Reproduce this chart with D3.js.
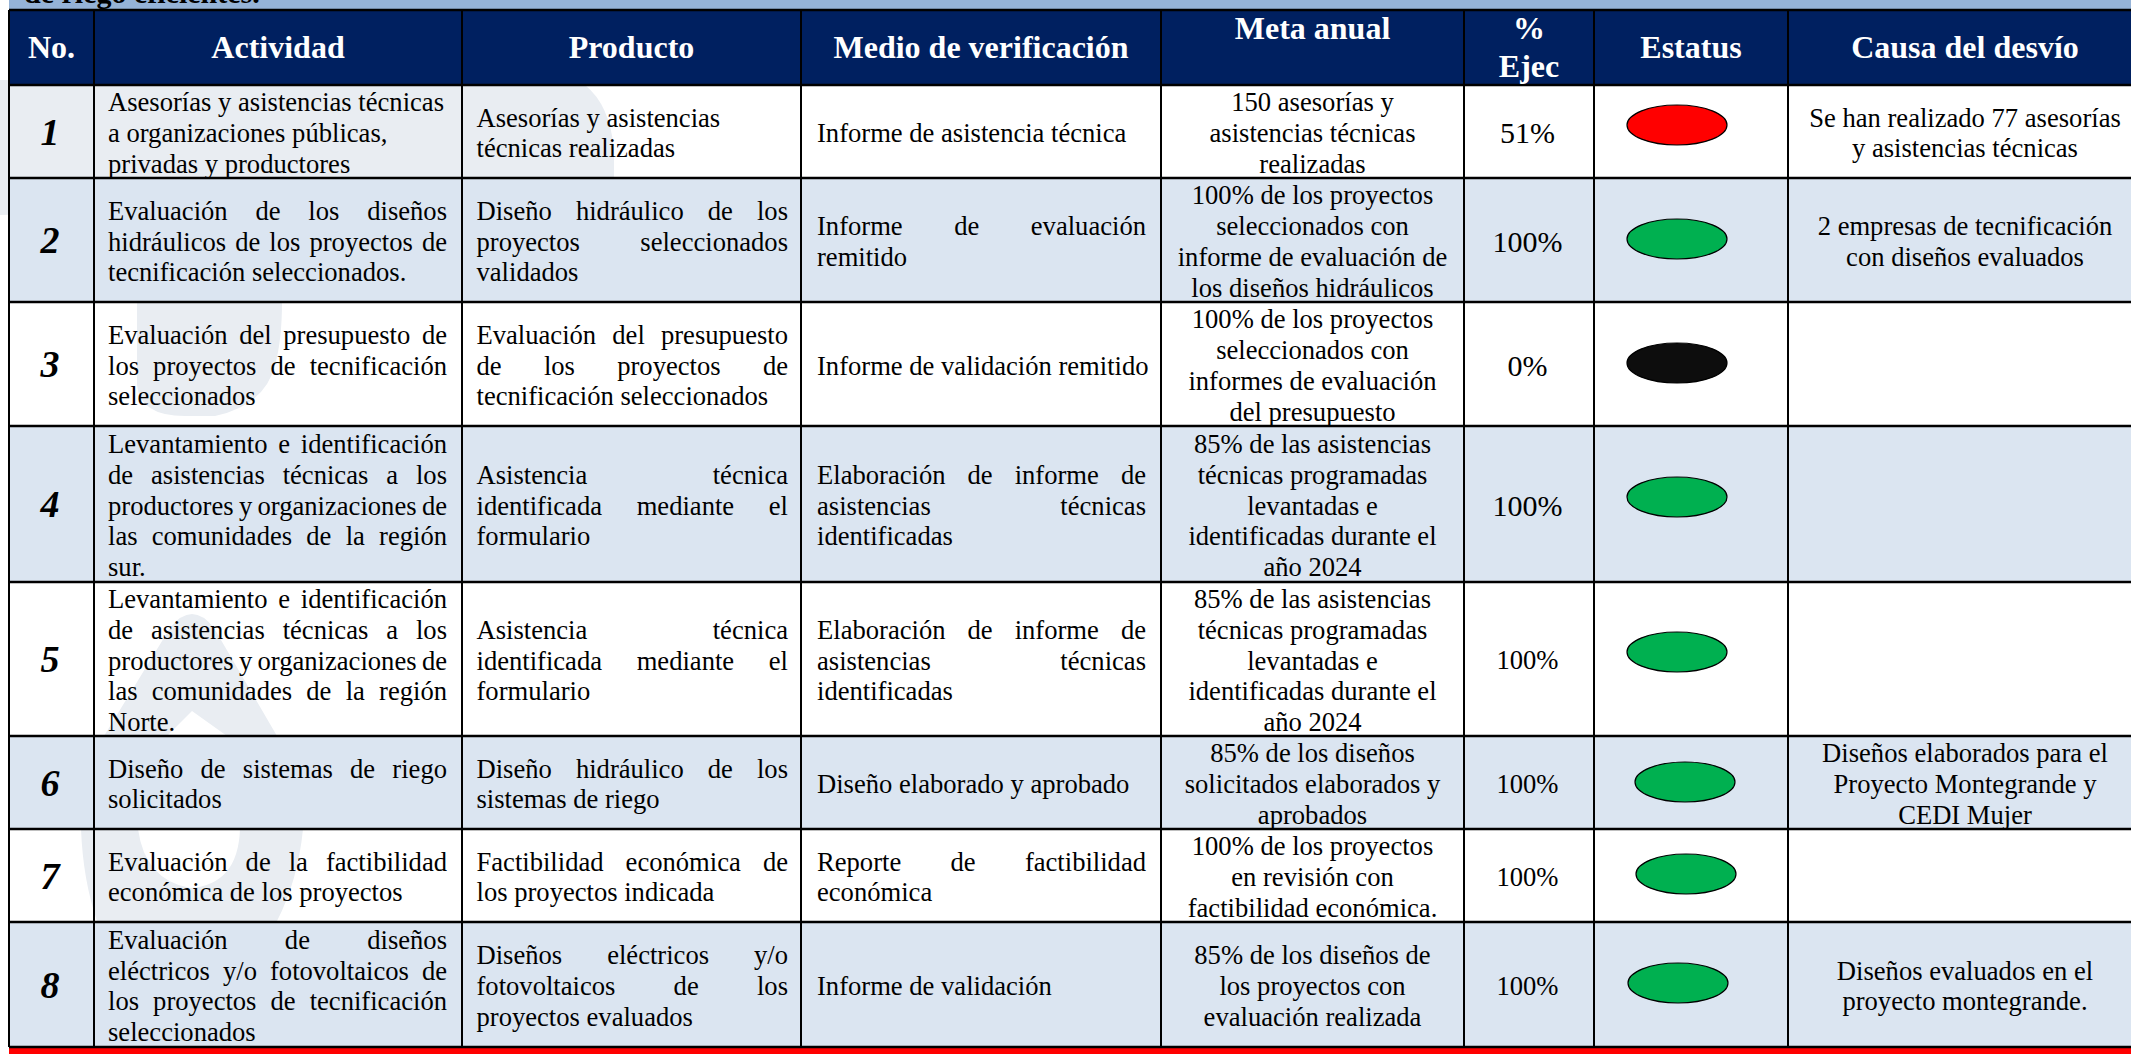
<!DOCTYPE html>
<html>
<head>
  <meta charset="utf-8">
  <title>Actividades</title>
  <script src="https://d3js.org/d3.v7.min.js"></script>
  <style>
    html, body { margin: 0; padding: 0; background: #fff; overflow: hidden; }
    text { font-family: "Liberation Serif", serif; fill: #000; }
  </style>
</head>
<body>
  <svg id="tabla" width="2131" height="1054"></svg>

  <script>
    // table content
    var headers = ["No.", "Actividad", "Producto", "Medio de verificación", "Meta anual", "%|Ejec", "Estatus", "Causa del desvío"];
    var numbers = ["1", "2", "3", "4", "5", "6", "7", "8"];
    var actividad = [
      ["Asesorías y asistencias técnicas", "a organizaciones públicas,", "privadas y productores"],
      ["Evaluación de los diseños", "hidráulicos de los proyectos de", "tecnificación seleccionados."],
      ["Evaluación del presupuesto de", "los proyectos de tecnificación", "seleccionados"],
      ["Levantamiento e identificación", "de asistencias técnicas a los", "productores y organizaciones de", "las comunidades de la región", "sur."],
      ["Levantamiento e identificación", "de asistencias técnicas a los", "productores y organizaciones de", "las comunidades de la región", "Norte."],
      ["Diseño de sistemas de riego", "solicitados"],
      ["Evaluación de la factibilidad", "económica de los proyectos"],
      ["Evaluación de diseños", "eléctricos y/o fotovoltaicos de", "los proyectos de tecnificación", "seleccionados"]
    ];
    var producto = [
      ["Asesorías y asistencias", "técnicas realizadas"],
      ["Diseño hidráulico de los", "proyectos seleccionados", "validados"],
      ["Evaluación del presupuesto", "de los proyectos de", "tecnificación seleccionados"],
      ["Asistencia técnica", "identificada mediante el", "formulario"],
      ["Asistencia técnica", "identificada mediante el", "formulario"],
      ["Diseño hidráulico de los", "sistemas de riego"],
      ["Factibilidad económica de", "los proyectos indicada"],
      ["Diseños eléctricos y/o", "fotovoltaicos de los", "proyectos evaluados"]
    ];
    var medio = [
      ["Informe de asistencia técnica"],
      ["Informe de evaluación", "remitido"],
      ["Informe de validación remitido"],
      ["Elaboración de informe de", "asistencias técnicas", "identificadas"],
      ["Elaboración de informe de", "asistencias técnicas", "identificadas"],
      ["Diseño elaborado y aprobado"],
      ["Reporte de factibilidad", "económica"],
      ["Informe de validación"]
    ];
    var meta = [
      ["150 asesorías y", "asistencias técnicas", "realizadas"],
      ["100% de los proyectos", "seleccionados con", "informe de evaluación de", "los diseños hidráulicos"],
      ["100% de los proyectos", "seleccionados con", "informes de evaluación", "del presupuesto"],
      ["85% de las asistencias", "técnicas programadas", "levantadas e", "identificadas durante el", "año 2024"],
      ["85% de las asistencias", "técnicas programadas", "levantadas e", "identificadas durante el", "año 2024"],
      ["85% de los diseños", "solicitados elaborados y", "aprobados"],
      ["100% de los proyectos", "en revisión con", "factibilidad económica."],
      ["85% de los diseños de", "los proyectos con", "evaluación realizada"]
    ];
    var ejecucion = [51, 100, 0, 100, 100, 100, 100, 100];
    var estatus = ["rojo", "verde", "negro", "verde", "verde", "verde", "verde", "verde"];
    var causa = [
      ["Se han realizado 77 asesorías", "y asistencias técnicas"],
      ["2 empresas de tecnificación", "con diseños evaluados"],
      [],
      [],
      [],
      ["Diseños elaborados para el", "Proyecto Montegrande y", "CEDI Mujer"],
      [],
      ["Diseños evaluados en el", "proyecto montegrande."]
    ];
    var tituloCortado = "de riego eficientes.";

    // layout
    var colEdges = [9, 94, 462, 801, 1161, 1464, 1594, 1788, 2142];
    var rowEdges = [10, 85, 178, 302, 426, 582, 736, 829, 922, 1047];
    var ovalX = [1677, 1677, 1677, 1677, 1677, 1685, 1686, 1678];
    var ovalY = [125, 239, 363, 497, 652, 782, 874, 983];
    var leftPad = [0, 14, 14.5, 16], rightPad = [0, 15, 13, 15];
    var bodySize = 26.6, bigSize = 30, headSize = 32, numSize = 38, lineH = 30.8;

    var colIdx = d3.range(colEdges.length), rowIdx = d3.range(rowEdges.length);
    var x = d3.scaleOrdinal().domain(colIdx).range(colEdges);
    var y = d3.scaleOrdinal().domain(rowIdx).range(rowEdges);
    var color = d3.scaleOrdinal().domain(["rojo", "verde", "negro"]).range(["#ff0000", "#00b050", "#0d0d0d"]);

    var svg = d3.select("#tabla");

    // top band and red strip, both cut by the edge of the picture
    svg.append("rect").attr("x", x(0)).attr("y", 0).attr("width", 2131).attr("height", y(0)).attr("fill", "#95b3d7");
    svg.append("rect").attr("x", x(0)).attr("y", y(9)).attr("width", 2131).attr("height", 7).attr("fill", "#ff0000");
    svg.append("text").attr("x", 24).attr("y", 3).attr("font-size", 30).attr("font-weight", "bold").text(tituloCortado);

    // watermark behind the white rows
    var marca = svg.append("g").attr("fill", "#e9edf2");
    marca.append("path").attr("d", "M0,80 L585,85 Q610,105 614,150 L614,200 L0,215 Z");
    marca.append("path").attr("d", "M137,302 L137,385 Q140,416 185,416 L215,416 Q265,405 275,365 Q282,340 282,302 Z");
    marca.append("path").attr("d", "M104,736 L170,628 Q192,600 214,628 L277,736 L227,736 L192,711 L167,736 Z");
    marca.append("path").attr("d", "M81,829 Q83,880 97,921 L277,921 Q298,880 303,829 L240,829 Q238,885 190,888 Q145,880 138,829 Z");

    // header and striped rows
    svg.append("rect").attr("x", x(0)).attr("y", y(0)).attr("width", 2131).attr("height", y(1) - y(0)).attr("fill", "#002060");
    svg.append("g").selectAll("rect")
        .data(numbers.filter(function(d, i) { return i % 2 == 1; }))
      .enter().append("rect")
        .attr("x", x(0))
        .attr("y", function(d) { return y(+d); })
        .attr("width", 2131)
        .attr("height", function(d) { return y(+d + 1) - y(+d); })
        .attr("fill", "#dbe5f1");

    // grid
    svg.append("g").selectAll("line")
        .data(rowIdx)
      .enter().append("line")
        .attr("x1", x(0)).attr("x2", 2131)
        .attr("y1", function(d) { return y(d); })
        .attr("y2", function(d) { return y(d); })
        .attr("stroke", "#000").attr("stroke-width", 2.6);
    svg.append("g").selectAll("line")
        .data(colIdx.slice(0, 8))
      .enter().append("line")
        .attr("x1", function(d) { return x(d); })
        .attr("x2", function(d) { return x(d); })
        .attr("y1", y(0)).attr("y2", y(9))
        .attr("stroke", "#000").attr("stroke-width", 2);

    // header labels
    var head = svg.append("g");
    headers.forEach(function(h, c) {
      var cx = (x(c) + x(c + 1)) / 2;
      var baselines = [58];
      if (h == "Meta anual") baselines = [39];
      if (h.indexOf("|") > -1) baselines = [39, 77];
      h.split("|").forEach(function(t, k) {
        head.append("text")
            .attr("x", cx).attr("y", baselines[k])
            .attr("text-anchor", "middle")
            .attr("font-size", headSize).attr("font-weight", "bold")
            .style("fill", "#fff")
            .text(t);
      });
    });

    function rowCenter(r) { return (y(r + 1) + y(r + 2)) / 2; }

    // a block of lines centred on the row; "just" stretches all but the last line
    function writeLines(lines, r, c, just) {
      var mid = rowCenter(r), first = mid + 10.5 - (lines.length - 1) * lineH / 2;
      var cx = (x(c) + x(c + 1)) / 2;
      lines.forEach(function(t, k) {
        var el = svg.append("text")
            .attr("y", first + k * lineH)
            .attr("font-size", bodySize)
            .text(t);
        if (just === null) {
          el.attr("x", cx).attr("text-anchor", "middle");
        } else {
          var left = x(c) + leftPad[c], right = x(c + 1) - rightPad[c];
          el.attr("x", left);
          var gaps = t.split(" ").length - 1;
          if (just && k < lines.length - 1 && gaps > 0) {
            var free = (right - left) - el.node().getComputedTextLength();
            el.attr("word-spacing", free / gaps);
          }
        }
      });
    }

    numbers.forEach(function(n, r) {
      svg.append("text")
          .attr("x", 50).attr("y", rowCenter(r) + 13)
          .attr("text-anchor", "middle")
          .attr("font-size", numSize).attr("font-weight", "bold").attr("font-style", "italic")
          .text(n);

      // first row is plain left aligned in the source
      writeLines(actividad[r], r, 1, r > 0);
      writeLines(producto[r], r, 2, r > 0);
      writeLines(medio[r], r, 3, r > 0);
      writeLines(meta[r], r, 4, null);
      writeLines(causa[r], r, 7, null);

      svg.append("text")
          .attr("x", (x(5) + x(6)) / 2 - 1.5)
          .attr("y", rowCenter(r) + (r < 4 ? 11.5 : 10))
          .attr("text-anchor", "middle")
          .attr("font-size", r < 4 ? bigSize : bodySize)
          .text(ejecucion[r] + "%");
    });

    // status ovals
    svg.append("g").selectAll("ellipse")
        .data(estatus)
      .enter().append("ellipse")
        .attr("cx", function(d, i) { return ovalX[i]; })
        .attr("cy", function(d, i) { return ovalY[i]; })
        .attr("rx", 50).attr("ry", 20)
        .attr("fill", function(d) { return color(d); })
        .attr("stroke", "#000").attr("stroke-width", 1.2);
  </script>
</body>
</html>
